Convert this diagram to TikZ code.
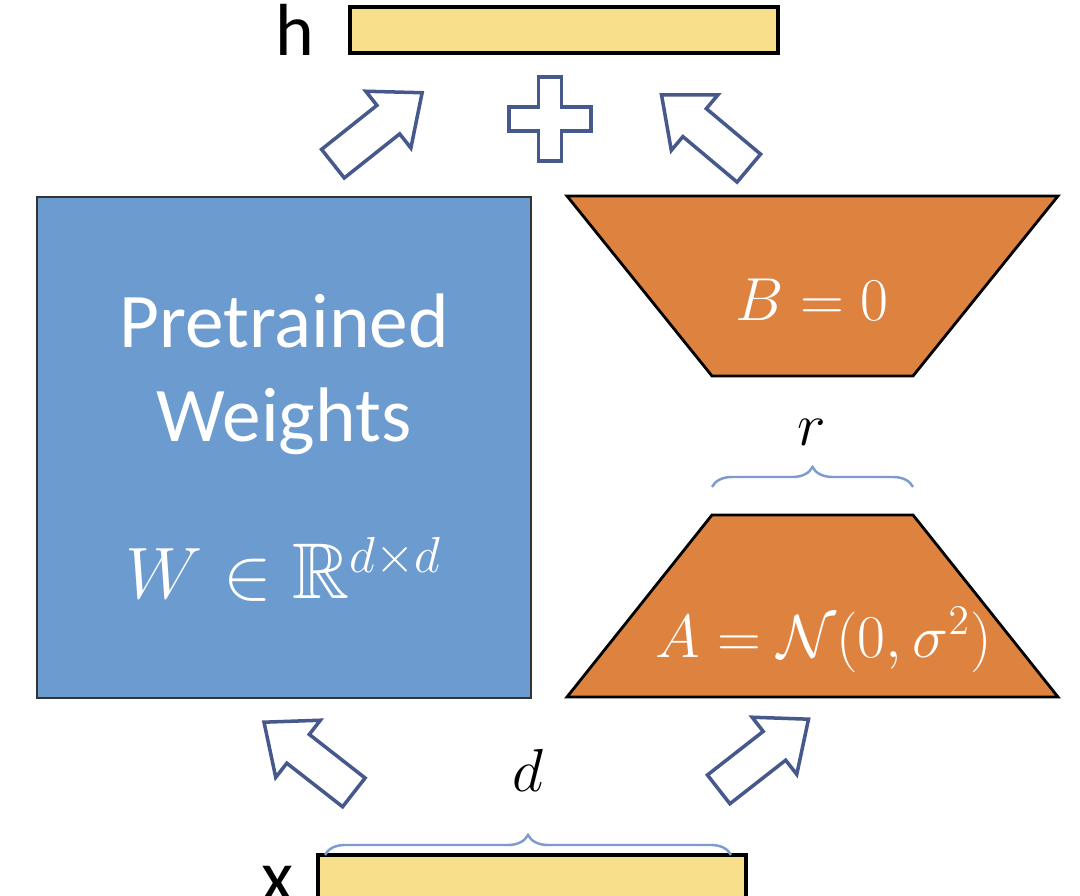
\documentclass[tikz,border=0pt]{standalone}
\usepackage{amsmath, amssymb}
\usepackage[no-math]{fontspec}
\setmainfont{Carlito}
\usetikzlibrary{positioning,shapes.arrows,decorations.pathreplacing,calc}
\definecolor{wblue}{RGB}{108,155,207}
\definecolor{loraorange}{RGB}{222,130,64}
\definecolor{vecyellow}{RGB}{248,223,140}
\definecolor{arrowslate}{RGB}{70,88,140}
\definecolor{bracecol}{RGB}{125,155,205}
\tikzset{
  vecbar/.style={draw=black, line width=0.9pt, fill=vecyellow, minimum width=4.28cm, minimum height=0.46cm, inner sep=0pt},
  weightbox/.style={draw=black!80, line width=0.8pt, fill=wblue, minimum width=4.94cm, minimum height=5.01cm, inner sep=0pt, align=center, text=white},
  lorablock/.style={draw=black, line width=0.8pt, fill=loraorange, line join=miter},
  blockarrow/.style={single arrow, draw=arrowslate, line width=1pt, fill=white, minimum height=1.14cm, single arrow head extend=0.18cm, single arrow tip angle=80, inner sep=0.165cm},
  crossmark/.style={draw=arrowslate, line width=1pt, fill=white},
  dimbrace/.style={decorate, decoration={brace, amplitude=0.2cm}, draw=bracecol, line width=0.7pt},
  veclabel/.style={font=\fontsize{21}{24}\selectfont, inner sep=0pt},
  mathlabel/.style={text=white, font=\fontsize{17}{20}\selectfont, inner sep=0pt},
  dimlabel/.style={font=\fontsize{16}{20}\selectfont, inner sep=0pt}
}

\begin{document}
\begin{tikzpicture}
  \useasboundingbox (0,0) rectangle (10.8,8.96);
  % vectors
  \node[vecbar] (hbar) at (5.64,8.66) {};
  \node[veclabel, left=0.33cm of hbar] (hlab) {h};
  \node[vecbar] (xbar) at (5.32,0.18) {};
  \node[veclabel, left=0.22cm of xbar, yshift=-0.06cm] (xlab) {x};
  % frozen weights
  \node[weightbox, font=\fontsize{22}{27}\selectfont] (wmat) at (2.84,4.485) {Pretrained\\Weights\\[0.62cm] {\fontsize{22.5}{27}\selectfont$W\in\mathbb{R}^{d\times d}$}};
  % low-rank blocks
  \coordinate (bmat) at (8.125,6.10);
  \coordinate (amat) at (8.125,2.90);
  \draw[lorablock] (5.67,7.00) -- (10.58,7.00) -- (9.13,5.20) -- (7.12,5.20) -- cycle;
  \draw[lorablock] (7.12,3.81) -- (9.13,3.81) -- (10.58,1.99) -- (5.67,1.99) -- cycle;
  \node[mathlabel] (blab) at (8.12,5.96) {$B=0$};
  \node[mathlabel, font=\fontsize{17.5}{20}\selectfont] (alab) at (8.24,2.56) {$A=\mathcal{N}(0,\sigma^2)$};
  % dimensions
  \draw[dimbrace] (7.12,4.09) -- (9.13,4.09);
  \node[dimlabel] (rlab) at (8.12,4.64) {$r$};
  \draw[dimbrace] (3.25,0.41) -- (7.31,0.41);
  \node[dimlabel] (dlab) at (5.28,1.26) {$d$};
  % flow
  \node[blockarrow, rotate=38.5] (arrWh) at (3.69,7.61) {};
  \node[blockarrow, rotate=140] (arrBh) at (7.135,7.575) {};
  \node[blockarrow, rotate=142] (arrxW) at (3.175,1.32) {};
  \node[blockarrow, rotate=38] (arrxA) at (7.55,1.35) {};
  \coordinate (plus) at (5.50,7.77);
  \draw[crossmark] (plus) ++(-0.41,-0.12) -- ++(0.295,0) -- ++(0,-0.30) -- ++(0.23,0) -- ++(0,0.30) -- ++(0.295,0) -- ++(0,0.24) -- ++(-0.295,0) -- ++(0,0.30) -- ++(-0.23,0) -- ++(0,-0.30) -- ++(-0.295,0) -- cycle;
\end{tikzpicture}
\end{document}
